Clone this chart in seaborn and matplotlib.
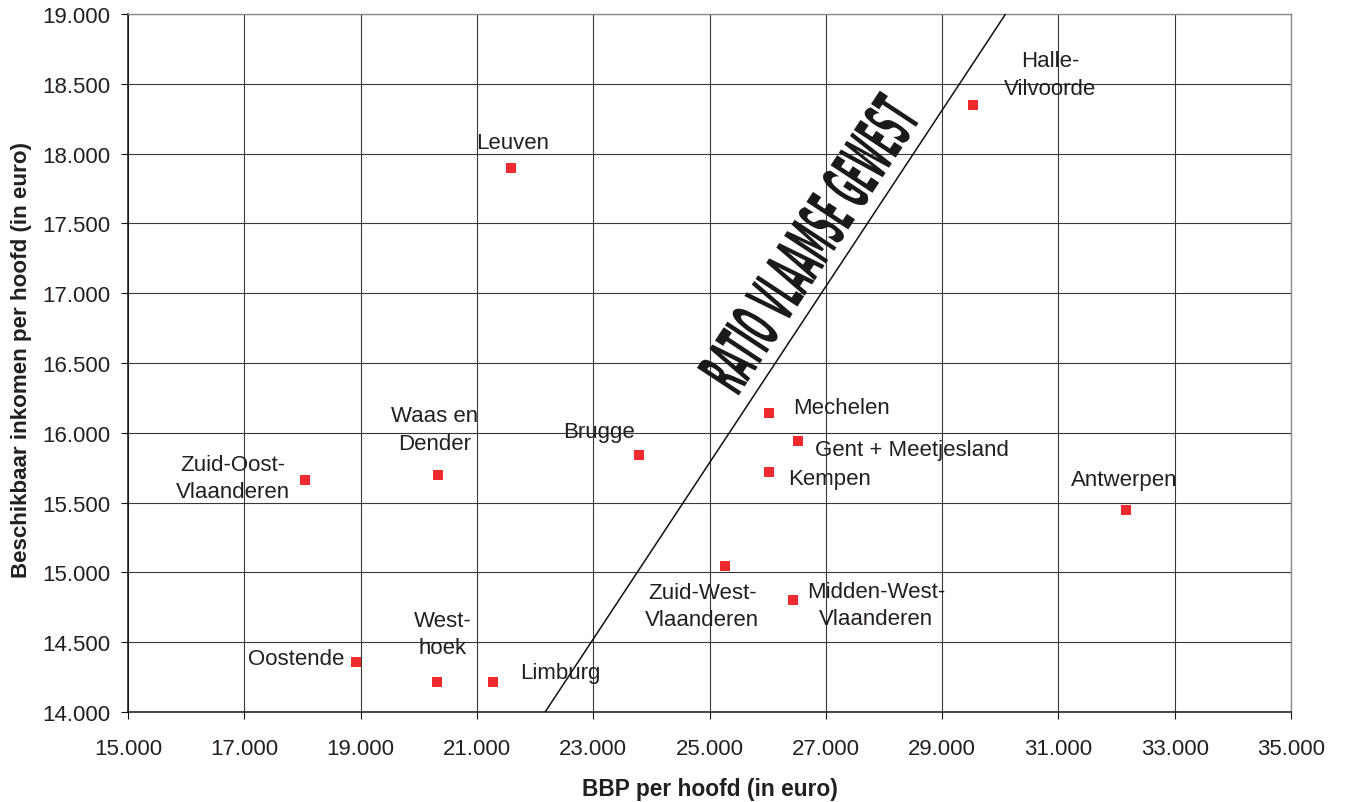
import numpy as np
import pandas as pd
import matplotlib
matplotlib.use("Agg")
import matplotlib.pyplot as plt
import matplotlib.transforms as mtransforms
from matplotlib.ticker import FuncFormatter
from matplotlib.textpath import TextPath
from matplotlib.patches import PathPatch
from matplotlib.font_manager import FontProperties
import seaborn as sns

# Data
regions = ["Leuven", "Halle-Vilvoorde", "Mechelen", "Gent + Meetjesland", "Kempen",
           "Brugge", "Waas en Dender", "Zuid-Oost-Vlaanderen", "Antwerpen",
           "Zuid-West-Vlaanderen", "Midden-West-Vlaanderen", "Oostende", "Westhoek", "Limburg"]
bbp = [21580, 29530, 26020, 26520, 26020, 23790, 20330, 18040, 32160,
       25270, 26440, 18920, 20310, 21280]
inkomen = [17900, 18350, 16140, 15940, 15720, 15840, 15700, 15660, 15450,
           15045, 14800, 14360, 14215, 14215]
label_text = ["Leuven", "Halle-\nVilvoorde", "Mechelen", "Gent + Meetjesland", "Kempen",
              "Brugge", "Waas en\nDender", "Zuid-Oost-\nVlaanderen", "Antwerpen",
              "Zuid-West-\nVlaanderen", "Midden-West-\nVlaanderen", "Oostende", "West-\nhoek", "Limburg"]
x_ticks = [15000, 17000, 19000, 21000, 23000, 25000, 27000, 29000, 31000, 33000, 35000]
y_ticks = [14000, 14500, 15000, 15500, 16000, 16500, 17000, 17500, 18000, 18500, 19000]
ratio_vlaams = 0.6314  # inkomen / BBP for the Flemish region
ratio_label = "RATIO VLAAMSE GEWEST"

df = pd.DataFrame({"regio": regions, "bbp": bbp, "inkomen": inkomen})

# label placement (alignment, dx, dy in pixels from the marker to the last baseline)
label_pos = [("center", 2, 20), ("center", 77, 11), ("left", 24, 0), ("left", 17, -14),
             ("left", 19, -12), ("center", -40, 18), ("center", -3, 26), ("center", -72, -17),
             ("center", -2, 25), ("center", -23, -59), ("center", 83, -24), ("right", -12, -2),
             ("center", 6, 29), ("left", 27, 4)]

sns.set_theme(style="white")
plt.rcParams["font.family"] = ["Liberation Sans", "DejaVu Sans"]
txt_color = "#231f20"

fig, ax = plt.subplots(figsize=(13.47, 8.03), dpi=100)
fig.subplots_adjust(left=128 / 1347, right=1291 / 1347, bottom=1 - 713 / 803, top=1 - 15 / 803)

sns.scatterplot(data=df, x="bbp", y="inkomen", marker="s", s=62, color="#ee2a2f",
                linewidth=0, zorder=4, ax=ax)

ax.set_xlim(15000, 35000)
ax.set_ylim(14000, 19000)
ax.axline((0, 0), slope=ratio_vlaams, color="#111111", lw=1.1, zorder=3)

ax.set_xticks(x_ticks)
ax.set_yticks(y_ticks)
fmt = FuncFormatter(lambda v, p: f"{v:,.0f}".replace(",", "."))
ax.xaxis.set_major_formatter(fmt)
ax.yaxis.set_major_formatter(fmt)
ax.grid(True, color="#383838", lw=0.8)
ax.set_axisbelow(True)
ax.tick_params(axis="both", which="major", labelsize=16, length=5, width=0.8,
               direction="out", color="#111111", labelcolor=txt_color,
               bottom=True, left=True)
ax.tick_params(axis="x", pad=14)
ax.tick_params(axis="y", pad=8)
for side in ["left", "bottom"]:
    ax.spines[side].set_color("#111111")
    ax.spines[side].set_linewidth(1.1)
for side in ["top", "right"]:
    ax.spines[side].set_color("#8a8a8a")
    ax.spines[side].set_linewidth(1.0)

ax.set_xlabel("BBP per hoofd (in euro)", fontsize=16.4, fontweight="bold", color=txt_color)
ax.set_ylabel("Beschikbaar inkomen per hoofd (in euro)", fontsize=16.1, fontweight="bold", color=txt_color)
ax.xaxis.set_label_coords(0.5, -0.093)
ax.yaxis.set_label_coords(-0.0825, 0.506)

for x, y, t, (ha, dx, dy) in zip(bbp, inkomen, label_text, label_pos):
    ax.annotate(t, (x, y), xytext=(dx, dy), textcoords="offset pixels", ha=ha,
                va="baseline", fontsize=16, color=txt_color, linespacing=1.4, zorder=5)

# condensed label along the ratio line
tp = TextPath((0, 0), ratio_label, size=100,
              prop=FontProperties(family=["Liberation Sans Narrow", "DejaVu Sans"], weight="bold"))
ext = tp.get_extents()
y_start = 16264
p0 = ax.transData.transform((y_start / ratio_vlaams, y_start))
p1 = ax.transData.transform((18500 / ratio_vlaams, 18500))
ang = np.degrees(np.arctan2(p1[1] - p0[1], p1[0] - p0[0]))
tr = (mtransforms.Affine2D().translate(-ext.x0, -ext.y0)
      .scale(332 / ext.width, 52 / ext.height)
      .rotate_deg(ang)
      .translate(p0[0] - 14, p0[1]))
patch = PathPatch(tp, transform=tr, facecolor="#1a1a1a", edgecolor="none", zorder=5)
ax.add_artist(patch)

plt.savefig("out.png", dpi=100)
